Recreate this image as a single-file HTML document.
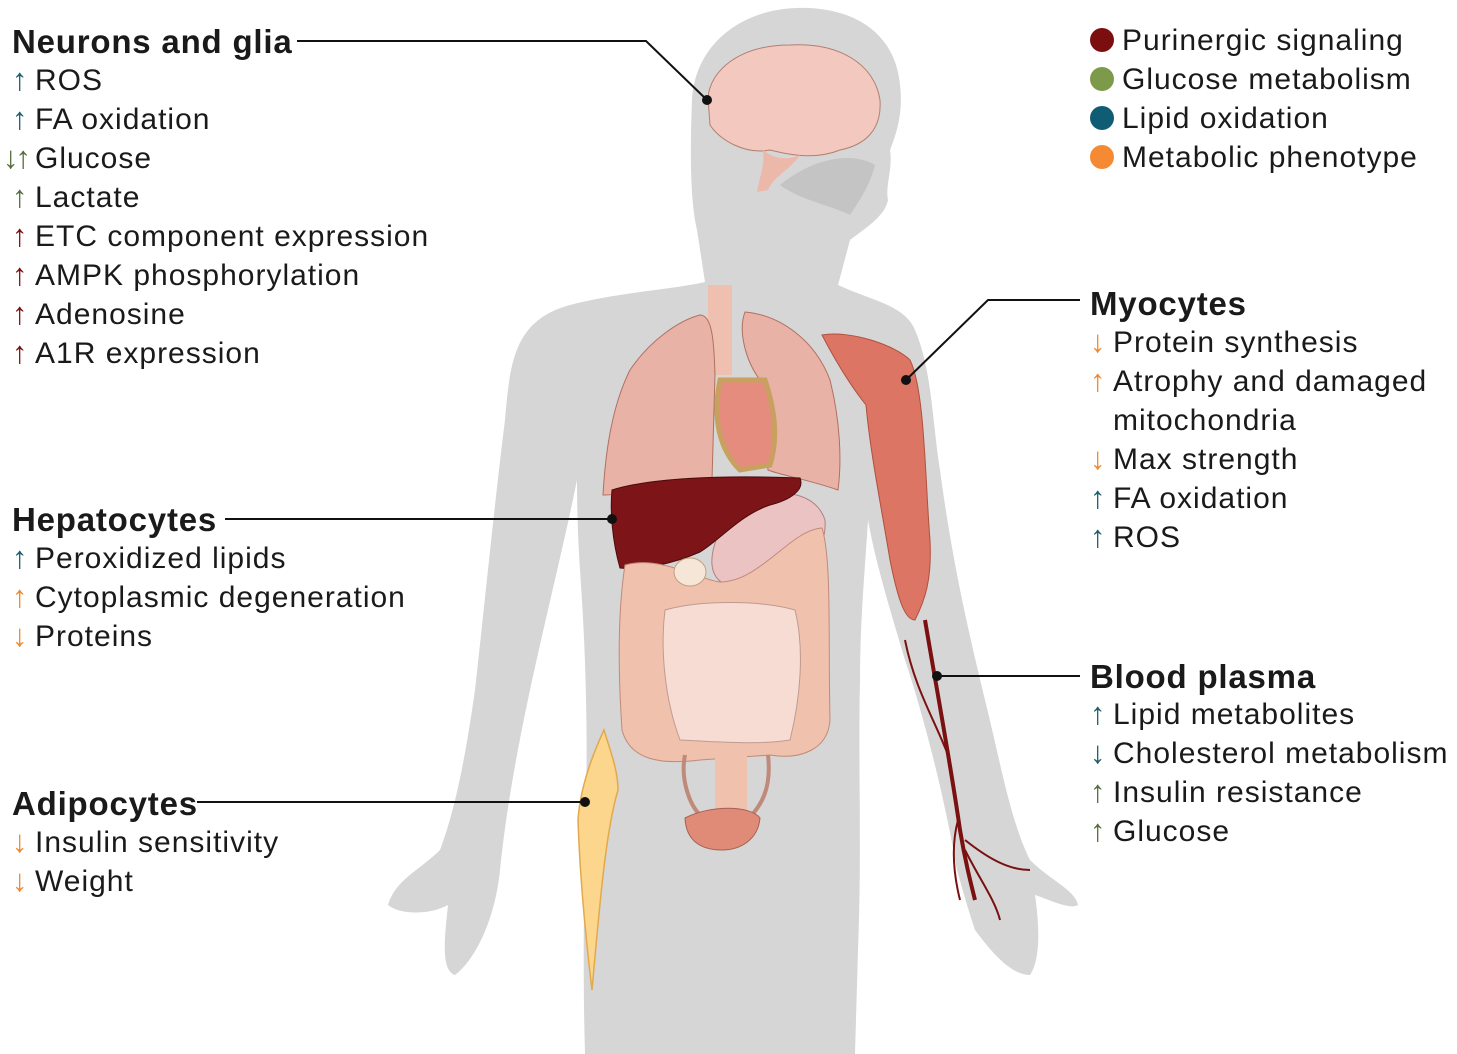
<!DOCTYPE html>
<html><head><meta charset="utf-8"><style>
body{margin:0;width:1457px;height:1054px;background:#fff;position:relative;overflow:hidden;font-family:"Liberation Sans",sans-serif;color:#1a1a1a}
svg{position:absolute;left:0;top:0}
.t{position:absolute;font-size:30px;letter-spacing:1px;line-height:39px;white-space:nowrap}
.h{font-weight:bold;font-size:33px;letter-spacing:0.8px}
.a{display:inline-block;width:23px;font-size:31px;letter-spacing:0;line-height:20px}
.b{color:#1b5e70}.g{color:#566d3e}.r{color:#7a1010}.o{color:#ef8a2c}
</style></head><body>
<svg width="1457" height="1054" viewBox="0 0 1457 1054">
<path fill="#d6d6d6" d="M796 8 C850 6 895 30 900 85 C903 110 898 130 890 150 C893 170 885 185 888 200 C885 215 870 225 850 240 L838 285 C870 300 905 305 915 330 C932 370 932 420 940 470 C952 560 968 630 985 700 C1000 760 1010 820 1030 860 C1050 880 1075 890 1078 905 C1070 910 1050 900 1035 895 C1040 930 1040 960 1030 975 C1010 975 990 950 975 930 C965 900 960 880 957 870 C945 800 925 720 905 660 C890 610 875 560 868 520 C865 570 860 620 860 680 C858 760 862 850 858 950 L855 1054 L585 1054 C582 950 585 860 586 800 C588 720 585 640 580 570 C578 540 577 510 577 480 C565 540 545 620 530 690 C515 760 505 820 500 870 C495 920 475 960 455 975 C440 970 445 935 448 905 C430 915 400 915 388 905 C395 880 420 870 440 850 C455 810 465 760 475 690 C485 600 495 500 505 420 C510 360 515 320 570 305 C620 292 670 290 705 282 L697 230 C690 200 690 150 692 100 C695 45 740 10 796 8 Z"/>
<path fill="#c4c4c4" d="M780 185 C810 160 850 150 875 165 C870 185 860 200 850 215 C830 205 800 200 780 185 Z"/>
<rect x="708" y="285" width="24" height="90" fill="#efc0b0"/>
<path fill="#e9b2a6" stroke="#b07060" stroke-width="1" d="M700 315 C680 320 650 340 630 370 C610 410 605 460 603 495 C640 495 680 485 712 480 L715 375 C714 340 712 315 700 315 Z"/>
<path fill="#e9b2a6" stroke="#b07060" stroke-width="1" d="M745 312 C780 315 815 340 830 380 C840 420 842 460 838 490 C810 480 780 475 768 470 L760 380 C745 360 738 330 745 312 Z"/>
<path fill="#e68c7e" stroke="#c8a060" stroke-width="5" d="M720 380 L765 380 C775 410 778 440 770 465 L740 470 C720 450 712 420 720 380 Z"/>
<path fill="#ecc3c3" stroke="#b08080" d="M740 495 C780 490 815 490 825 520 C828 560 790 585 740 588 C705 585 700 555 740 495 Z"/>
<path fill="#7d1518" stroke="#4a0a0a" d="M612 490 C650 478 720 475 800 478 C805 490 790 500 770 505 C740 515 720 540 700 552 C670 565 640 570 620 568 C612 540 610 510 612 490 Z"/>
<path fill="#f0c2ad" stroke="#c08a7a" d="M625 565 C660 555 700 580 720 582 C760 582 790 530 822 528 C832 560 828 640 830 720 C828 750 800 760 770 755 L700 760 C660 765 630 760 622 730 C618 670 618 610 625 565 Z"/>
<path fill="#f7dcd4" stroke="#c09a90" d="M665 610 C700 600 760 600 795 610 C805 650 800 700 790 740 C760 745 720 742 680 740 C665 700 660 650 665 610 Z"/>
<ellipse cx="690" cy="572" rx="16" ry="14" fill="#f5e6d8" stroke="#c0a080"/>
<rect x="715" y="755" width="32" height="60" fill="#f0c2ad"/>
<path d="M685 755 C680 780 690 805 700 815 M768 755 C772 790 760 805 752 815" stroke="#c08a7a" stroke-width="4" fill="none"/>
<path fill="#e08a78" stroke="#a86050" d="M685 818 C710 805 750 805 760 818 C758 840 740 850 722 850 C700 850 686 840 685 818 Z"/>
<path fill="#dc7563" stroke="#b05040" d="M822 335 C850 330 895 345 910 360 C925 390 925 480 930 540 C932 580 925 600 915 620 C905 620 898 600 890 560 C880 500 870 450 866 405 C850 385 835 360 822 335 Z"/>
<g stroke="#7a1010" fill="none" stroke-width="2">
<path d="M925 620 C935 680 950 760 960 830 C965 860 970 880 975 900" stroke-width="4"/>
<path d="M905 640 C915 690 935 720 950 760"/>
<path d="M958 820 C950 850 955 880 960 900 M965 840 C990 860 1010 870 1030 870 M965 850 C980 880 995 900 1000 920"/>
</g>
<path fill="#fbd68c" stroke="#e3a94c" stroke-width="1.5" d="M604 730 C610 750 618 770 618 790 C606 830 600 900 592 990 C586 940 580 880 578 820 C580 790 590 760 604 730 Z"/>
<path fill="#f3c8bf" stroke="#b08070" d="M708 98 C710 70 740 45 790 45 C840 42 875 65 880 100 C882 130 865 145 840 150 C815 160 790 155 770 150 C745 155 720 140 710 125 Z"/>
<path fill="#ecb8aa" d="M763 150 C775 160 790 160 800 155 C790 170 775 175 768 190 L757 192 C760 175 765 165 763 150 Z"/>
<g stroke="#111" stroke-width="2" fill="none">
<path d="M297 41 L646 41 L707 100"/>
<path d="M225 519 L612 519"/>
<path d="M197 802 L585 802"/>
<path d="M906 380 L988 300 L1080 300"/>
<path d="M937 676 L1080 676"/>
</g>
<g fill="#111"><circle cx="707" cy="100" r="5"/><circle cx="612" cy="519" r="5"/><circle cx="585" cy="802" r="5"/><circle cx="906" cy="380" r="5"/><circle cx="937" cy="676" r="5"/></g>
<circle cx="1102" cy="40" r="12" fill="#7b0f0f"/>
<circle cx="1102" cy="79" r="12" fill="#7d9a4a"/>
<circle cx="1102" cy="118" r="12" fill="#0f5c74"/>
<circle cx="1102" cy="157" r="12" fill="#f58a32"/>
</svg>

<div class="t" style="left:1122px;top:21px">Purinergic signaling<br>Glucose metabolism<br>Lipid oxidation<br>Metabolic phenotype</div>

<div class="t h" style="left:12px;top:22px">Neurons and glia</div>
<div class="t" style="left:12px;top:61px">
<span class="a b">↑</span>ROS<br>
<span class="a b">↑</span>FA oxidation<br>
<span class="a g" style="margin-left:-9px;padding-right:9px;letter-spacing:-3px">↓↑</span>Glucose<br>
<span class="a g">↑</span>Lactate<br>
<span class="a r">↑</span>ETC component expression<br>
<span class="a r">↑</span>AMPK phosphorylation<br>
<span class="a r">↑</span>Adenosine<br>
<span class="a r">↑</span>A1R expression</div>

<div class="t h" style="left:12px;top:500px">Hepatocytes</div>
<div class="t" style="left:12px;top:539px">
<span class="a b">↑</span>Peroxidized lipids<br>
<span class="a o">↑</span>Cytoplasmic degeneration<br>
<span class="a o">↓</span>Proteins</div>

<div class="t h" style="left:12px;top:784px">Adipocytes</div>
<div class="t" style="left:12px;top:823px">
<span class="a o">↓</span>Insulin sensitivity<br>
<span class="a o">↓</span>Weight</div>

<div class="t h" style="left:1090px;top:284px">Myocytes</div>
<div class="t" style="left:1090px;top:323px">
<span class="a o">↓</span>Protein synthesis<br>
<span class="a o">↑</span>Atrophy and damaged<br>
<span class="a"></span>mitochondria<br>
<span class="a o">↓</span>Max strength<br>
<span class="a b">↑</span>FA oxidation<br>
<span class="a b">↑</span>ROS</div>

<div class="t h" style="left:1090px;top:657px">Blood plasma</div>
<div class="t" style="left:1090px;top:695px">
<span class="a b">↑</span>Lipid metabolites<br>
<span class="a b">↓</span>Cholesterol metabolism<br>
<span class="a g">↑</span>Insulin resistance<br>
<span class="a g">↑</span>Glucose</div>
</body></html>
